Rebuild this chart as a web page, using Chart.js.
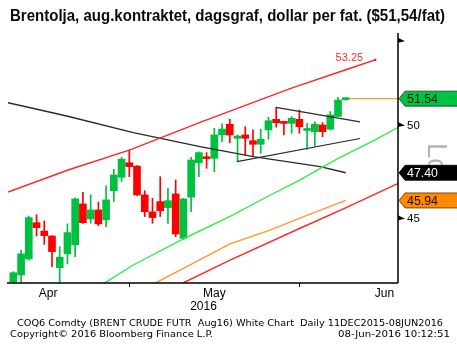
<!DOCTYPE html>
<html>
<head>
<meta charset="utf-8">
<title>Brentolja aug.kontraktet</title>
<script src="https://cdn.jsdelivr.net/npm/chart.js@4.4.1/dist/chart.umd.min.js"></script>
<style>
  html, body { margin: 0; padding: 0; background: #fff; }
  #wrap { width: 457px; height: 345px; }
</style>
</head>
<body>
<div id="wrap"><canvas id="brentChart" width="457" height="345"></canvas></div>
<script>
// Brent Aug16 daily candles, 8 Apr - 8 Jun 2016
const dates = [
  '2016-04-08','2016-04-11','2016-04-12','2016-04-13','2016-04-14','2016-04-15','2016-04-18','2016-04-19',
  '2016-04-20','2016-04-21','2016-04-22','2016-04-25','2016-04-26','2016-04-27','2016-04-28','2016-04-29',
  '2016-05-02','2016-05-03','2016-05-04','2016-05-05','2016-05-06','2016-05-09','2016-05-10','2016-05-11',
  '2016-05-12','2016-05-13','2016-05-16','2016-05-17','2016-05-18','2016-05-19','2016-05-20','2016-05-23',
  '2016-05-24','2016-05-25','2016-05-26','2016-05-27','2016-05-30','2016-05-31','2016-06-01','2016-06-02',
  '2016-06-03','2016-06-06','2016-06-07','2016-06-08'
];
const opens = [
  41.90, 42.23, 43.00, 44.80, 44.38, 44.13, 42.58, 43.25, 43.69, 45.76, 44.99, 45.45, 44.94, 46.45, 47.16, 47.94,
  47.76, 46.23, 45.35, 45.88, 45.57, 46.28, 44.02, 46.11, 47.94, 48.20, 48.18, 49.47, 50.07, 49.28, 49.47, 49.15,
  48.95, 49.75, 50.35, 50.14, 50.12, 50.35, 49.72, 49.65, 50.03, 49.79, 50.52, 51.48
];
const highs = [
  42.39, 43.44, 45.14, 45.21, 44.89, 44.15, 43.60, 44.74, 46.08, 46.37, 46.23, 45.86, 46.70, 47.59, 48.24, 48.64,
  47.78, 46.45, 46.05, 47.19, 46.58, 47.02, 46.05, 48.24, 48.54, 48.49, 49.84, 50.10, 50.35, 49.47, 49.93, 49.75,
  49.79, 50.47, 51.04, 50.21, 50.50, 50.88, 50.12, 50.21, 50.16, 50.79, 51.62, 51.60
];
const lows = [
  41.80, 41.80, 42.95, 44.13, 43.72, 42.63, 41.80, 42.76, 43.11, 44.77, 44.77, 44.65, 44.60, 45.88, 46.93, 47.19,
  46.17, 45.11, 44.77, 45.11, 44.77, 44.10, 43.94, 45.36, 47.19, 47.64, 47.46, 49.09, 49.04, 48.00, 48.36, 48.27,
  48.45, 49.23, 49.90, 49.47, 49.56, 49.56, 48.67, 48.86, 49.37, 49.75, 50.50, 51.45
];
const closes = [
  42.34, 43.25, 45.06, 44.55, 44.15, 43.36, 43.09, 44.30, 46.02, 44.80, 45.45, 44.74, 45.97, 47.28, 48.13, 47.73,
  46.23, 45.36, 45.06, 45.41, 45.93, 44.23, 46.02, 48.09, 48.49, 48.16, 49.47, 49.80, 49.47, 49.41, 49.28, 48.95,
  49.23, 50.27, 50.16, 50.12, 50.41, 49.93, 49.75, 50.07, 49.65, 50.60, 51.46, 51.54
];

// study lines as [day index, price]
const upperChannel = [[-0.69, 46.38], [7.08, 47.55], [15.1, 48.64], [24.15, 50.18], [35.8, 52.13], [43, 53.25], [46.8, 53.85]];
const lowerChannel = [[21.9, 41.84], [28.03, 42.95], [37.09, 44.52], [42.91, 45.54], [49.8, 46.84]];
const greenAverage = [[11.77, 41.84], [15.52, 42.71], [22.43, 44.07], [28.03, 45.12], [32.78, 46.12], [37.09, 47.02], [41.84, 48.13], [46.79, 49.19], [49.8, 49.90]];
const orangeAverage = [[18.33, 41.84], [22.86, 42.71], [28.03, 43.74], [33.2, 44.43], [38.38, 45.24], [43, 45.94]];
const longTrend = [[-0.69, 51.30], [6.91, 50.54], [15.52, 49.60], [24.15, 48.82], [31.05, 48.27], [35.37, 48.00], [39.68, 47.73], [43, 47.40]];
const triangleTop = [[33.98, 51.03], [44.85, 50.21]];
const triangleBottom = [[28.94, 48.00], [44.85, 49.27]];
const lastPriceLine = [[43.35, 51.54], [49.76, 51.54]];

const channelLabel = '53.25';
const yTickValues = [45, 50, 55];
const yTickLabels = ['45', '50', ''];
const flags = [
  { value: 51.54, text: '51.54', fill: '#00c244', color: '#0a1f0a', border: '#1a3a1a' },
  { value: 47.40, text: '47.40', fill: '#000000', color: '#ffffff', border: '#000000' },
  { value: 45.94, text: '45.94', fill: '#ff8a00', color: '#1a0d00', border: '#5a3000' }
];
const monthLabels = [['Apr', 4.5], ['May', 26], ['Jun', 48]];
const yearLabel = ['2016', 24.6];

const GREEN = '#00c040';
const RED = '#ff0000';

const toXY = (pts) => pts.map(([x, y]) => ({ x, y }));
const candleColors = closes.map((c, i) => (c >= opens[i] ? GREEN : RED));

// last trading day of each month -> separator ticks on the time axis
const monthEnds = dates
  .map((d, i) => (i < dates.length - 1 && d.slice(5, 7) !== dates[i + 1].slice(5, 7) ? i : -1))
  .filter((i) => i >= 0);

// draw text squeezed/stretched to a given width
function fitText(ctx, text, left, baseline, width, font) {
  ctx.save();
  ctx.font = font;
  const w = ctx.measureText(text).width;
  ctx.translate(left, baseline);
  ctx.scale(width / w, 1);
  ctx.textAlign = 'left';
  ctx.textBaseline = 'alphabetic';
  ctx.fillText(text, 0, 0);
  ctx.restore();
}

const chartDecor = {
  id: 'chartDecor',
  afterDraw(chart) {
    const { ctx, chartArea: a, scales: { x, y } } = chart;
    ctx.save();

    // title
    ctx.fillStyle = '#0a0a14';
    fitText(ctx, 'Brentolja, aug.kontraktet, dagsgraf, dollar per fat. ($51,54/fat)', 10, 20.7, 435,
      "bold 16.5px 'Liberation Sans Narrow', 'Liberation Sans', Arial, sans-serif");

    // axis lines
    ctx.strokeStyle = '#000';
    ctx.lineWidth = 1.5;
    ctx.beginPath();
    ctx.moveTo(a.left - 1, a.bottom);
    ctx.lineTo(a.right, a.bottom);
    ctx.moveTo(a.right, a.top - 3);
    ctx.lineTo(a.right, a.bottom);
    ctx.stroke();

    // month separators below the axis
    ctx.lineWidth = 1;
    monthEnds.forEach((i) => {
      const px = Math.round(x.getPixelForValue(i)) + 0.5;
      ctx.beginPath();
      ctx.moveTo(px, a.bottom);
      ctx.lineTo(px, a.bottom + 4);
      ctx.stroke();
    });

    // month and year labels
    ctx.fillStyle = '#000';
    ctx.font = "12px 'Liberation Sans', Arial, sans-serif";
    ctx.textAlign = 'center';
    ctx.textBaseline = 'alphabetic';
    monthLabels.forEach(([t, v]) => ctx.fillText(t, x.getPixelForValue(v), 297));
    ctx.fillText(yearLabel[0], x.getPixelForValue(yearLabel[1]), 310);

    // price axis markers
    yTickValues.forEach((v, k) => {
      const py = y.getPixelForValue(v);
      ctx.beginPath();
      ctx.moveTo(a.right, py - 3.5);
      ctx.lineTo(a.right + 7, py);
      ctx.lineTo(a.right, py + 1.5);
      ctx.closePath();
      ctx.fill();
      if (yTickLabels[k]) {
        ctx.font = "11.5px 'Liberation Sans', Arial, sans-serif";
        ctx.textAlign = 'left';
        ctx.textBaseline = 'middle';
        ctx.fillText(yTickLabels[k], a.right + 9, py);
      }
    });

    // watermark on the price axis
    ctx.save();
    ctx.fillStyle = '#b4b4b4';
    ctx.font = "27px 'Liberation Sans', Arial, sans-serif";
    ctx.translate(a.right + 30, 143);
    ctx.rotate(Math.PI / 2);
    ctx.textAlign = 'left';
    ctx.textBaseline = 'alphabetic';
    ctx.fillText('Lo', 0, 0);
    ctx.restore();

    // value flags on the price axis
    flags.forEach((f) => {
      const cy = y.getPixelForValue(f.value);
      ctx.beginPath();
      ctx.moveTo(a.right + 1, cy);
      ctx.lineTo(a.right + 7, cy - 7.5);
      ctx.lineTo(chart.width + 2, cy - 7.5);
      ctx.lineTo(chart.width + 2, cy + 7.5);
      ctx.lineTo(a.right + 7, cy + 7.5);
      ctx.closePath();
      ctx.fillStyle = f.fill;
      ctx.fill();
      ctx.strokeStyle = f.border;
      ctx.lineWidth = 0.8;
      ctx.stroke();
      ctx.fillStyle = f.color;
      fitText(ctx, f.text, a.right + 9, cy + 4.5, 31, "12.5px 'Liberation Sans', Arial, sans-serif");
    });

    // channel value label
    const end = upperChannel[upperChannel.length - 1];
    ctx.fillStyle = '#ff2a2a';
    ctx.font = "11px 'Liberation Sans', Arial, sans-serif";
    ctx.textAlign = 'right';
    ctx.textBaseline = 'middle';
    ctx.fillText(channelLabel, x.getPixelForValue(end[0]) - 12, y.getPixelForValue(end[1]) - 1.5);

    // footer
    ctx.fillStyle = '#000';
    fitText(ctx, 'COQ6 Comdty (BRENT CRUDE FUTR  Aug16) White Chart  Daily 11DEC2015-08JUN2016', 17, 325.8, 426,
      "9.5px 'DejaVu Sans', sans-serif");
    fitText(ctx, 'Copyright\u00a9 2016 Bloomberg Finance L.P.', 10, 336.8, 203, "9.5px 'DejaVu Sans', sans-serif");
    fitText(ctx, '08-Jun-2016 10:12:51', 338, 336.8, 112, "9.5px 'DejaVu Sans', sans-serif");

    ctx.restore();
  }
};

const lineSet = (data, color, width, order, extra = {}) => ({
  type: 'line',
  data: toXY(data),
  borderColor: color,
  borderWidth: width,
  pointRadius: 0,
  tension: 0,
  order,
  ...extra
});

new Chart(document.getElementById('brentChart'), {
  type: 'bar',
  data: {
    datasets: [
      {
        label: 'wicks',
        data: highs.map((h, i) => ({ x: i, y: [lows[i], h] })),
        backgroundColor: candleColors,
        barThickness: 1,
        grouped: false,
        order: 3
      },
      {
        label: 'bodies',
        data: closes.map((c, i) => ({ x: i, y: [opens[i], c] })),
        backgroundColor: candleColors,
        barThickness: 7,
        minBarLength: 2,
        grouped: false,
        order: 2
      },
      lineSet(upperChannel, '#ff2626', 1.4, 1, {
        pointRadius: upperChannel.map((p, i) => (i === upperChannel.length - 1 ? 1.6 : 0)),
        pointBackgroundColor: '#ff2626',
        pointBorderWidth: 0,
        pointStyle: 'rect'
      }),
      lineSet(lowerChannel, '#ff2626', 1.4, 1),
      lineSet(greenAverage, '#2cf04a', 1.4, 1),
      lineSet(orangeAverage, '#ff9a2a', 1.4, 1),
      lineSet(longTrend, '#2a2a2a', 1.4, 1),
      lineSet(triangleTop, '#2a2a2a', 1.2, 1),
      lineSet(triangleBottom, '#2a2a2a', 1.2, 1),
      lineSet(lastPriceLine, '#ff8a00', 1, 1)
    ]
  },
  options: {
    responsive: false,
    animation: false,
    layout: { padding: { left: 8, right: 59, top: 36, bottom: 62 } },
    plugins: { legend: { display: false }, tooltip: { enabled: false } },
    scales: {
      x: { type: 'linear', display: false, offset: false, min: -0.69, max: 49.76, bounds: 'data' },
      y: { type: 'logarithmic', display: false, min: 41.85, max: 55.32, bounds: 'data' }
    }
  },
  plugins: [chartDecor]
});
</script>
</body>
</html>
